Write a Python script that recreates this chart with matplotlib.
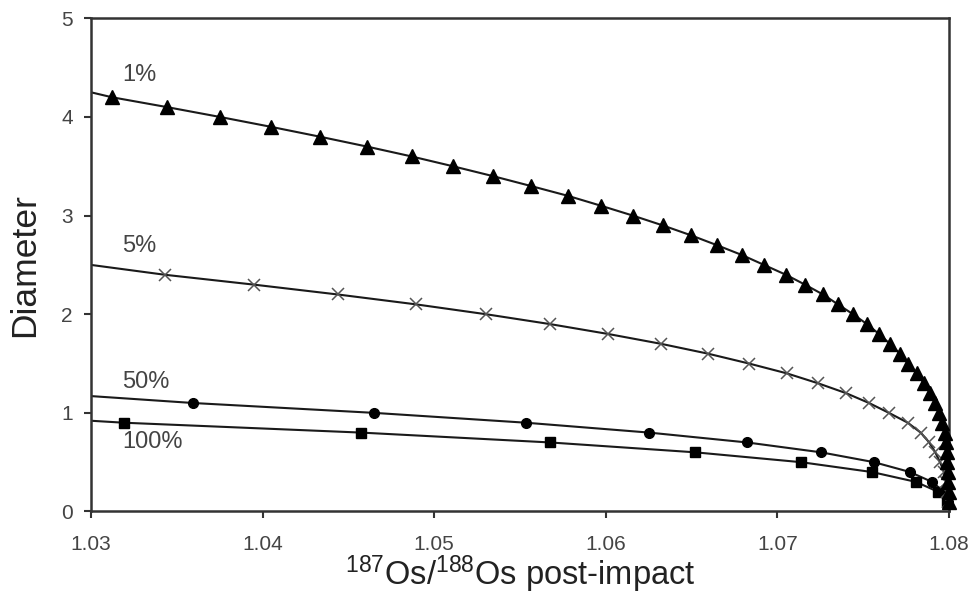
import matplotlib
matplotlib.use("Agg")
import matplotlib.pyplot as plt

plt.rcParams['font.family'] = ['Liberation Sans', 'DejaVu Sans']
plt.rcParams['mathtext.fontset'] = 'custom'
plt.rcParams['mathtext.rm'] = 'Liberation Sans'
plt.rcParams['mathtext.default'] = 'regular'

# ---- data ----
# 1% curve (triangles)
tri_x = [1.03122, 1.03443, 1.03752, 1.04049, 1.04334, 1.04608, 1.04868, 1.05110,
         1.05343, 1.05564, 1.05780, 1.05972, 1.06158, 1.06333, 1.06497, 1.06648,
         1.06794, 1.06922, 1.07050, 1.07161, 1.07266, 1.07353, 1.07441, 1.07522,
         1.07592, 1.07656, 1.07714, 1.07761, 1.07814, 1.07854, 1.07889, 1.07918,
         1.07942, 1.07959, 1.07974, 1.07983, 1.07988, 1.07991, 1.07994, 1.07996,
         1.07998, 1.08000]
tri_y = [4.2, 4.1, 4.0, 3.9, 3.8, 3.7, 3.6, 3.5, 3.4, 3.3, 3.2, 3.1, 3.0, 2.9,
         2.8, 2.7, 2.6, 2.5, 2.4, 2.3, 2.2, 2.1, 2.0, 1.9, 1.8, 1.7, 1.6, 1.5,
         1.4, 1.3, 1.2, 1.1, 1.0, 0.9, 0.8, 0.7, 0.6, 0.5, 0.4, 0.3, 0.2, 0.1]
# 5% curve (crosses)
crs_x = [1.03431, 1.03950, 1.04439, 1.04894, 1.05302, 1.05675, 1.06013, 1.06322,
         1.06596, 1.06835, 1.07056, 1.07237, 1.07400, 1.07534, 1.07650, 1.07760,
         1.07835, 1.07885, 1.07920, 1.07948, 1.07971, 1.07983, 1.07991, 1.07997]
crs_y = [2.4, 2.3, 2.2, 2.1, 2.0, 1.9, 1.8, 1.7, 1.6, 1.5, 1.4, 1.3, 1.2, 1.1,
         1.0, 0.9, 0.8, 0.7, 0.6, 0.5, 0.4, 0.3, 0.2, 0.1]
# 50% curve (circles)
cir_x = [1.03594, 1.04649, 1.05535, 1.06252, 1.06823, 1.07254, 1.07563, 1.07773,
         1.07901, 1.07971, 1.07995]
cir_y = [1.1, 1.0, 0.9, 0.8, 0.7, 0.6, 0.5, 0.4, 0.3, 0.2, 0.1]
# 100% curve (squares)
sqr_x = [1.03192, 1.04573, 1.05675, 1.06520, 1.07138, 1.07551, 1.07808, 1.07936,
         1.07988]
sqr_y = [0.9, 0.8, 0.7, 0.6, 0.5, 0.4, 0.3, 0.2, 0.1]

# curve start values at x = 1.03 and common end point
line_x0 = 1.03
start_y = {'1%': 4.25, '5%': 2.50, '50%': 1.17, '100%': 0.92}
end_x, end_y = 1.08, 0.05

labels = ['1%', '5%', '50%', '100%']
label_pos = {'1%': (1.0318, 4.43), '5%': (1.0318, 2.69),
             '50%': (1.0318, 1.31), '100%': (1.0318, 0.70)}

x_ticks = [1.03, 1.04, 1.05, 1.06, 1.07, 1.08]
x_ticklabels = ['1.03', '1.04', '1.05', '1.06', '1.07', '1.08']
y_ticks = [0, 1, 2, 3, 4, 5]

# ---- figure ----
fig = plt.figure(figsize=(9.73, 5.99), dpi=100)
ax = fig.add_axes([0.0935, 0.1461, 0.8818, 0.8233])

series = [
    ('1%', tri_x, tri_y, dict(marker='^', ms=10, mfc='black', mec='black', ls='none')),
    ('5%', crs_x, crs_y, dict(marker='x', ms=9, mec='#555555', mew=1.1, ls='none')),
    ('50%', cir_x, cir_y, dict(marker='o', ms=7, mfc='black', mec='black', ls='none')),
    ('100%', sqr_x, sqr_y, dict(marker='s', ms=6.5, mfc='black', mec='black', ls='none')),
]

for name, xs, ys, style in series:
    lx = [line_x0] + list(xs) + [end_x]
    ly = [start_y[name]] + list(ys) + [end_y]
    ax.plot(lx, ly, color='#1a1a1a', lw=1.5, zorder=2)

for name, xs, ys, style in reversed(series):
    ax.plot(xs, ys, zorder=3, clip_on=False, **style)

for name in labels:
    px, py = label_pos[name]
    ax.text(px, py, name, fontsize=17, color='#444444', ha='left', va='center')

ax.set_xlim(1.03, 1.08)
ax.set_ylim(0, 5)
ax.set_xticks(x_ticks)
ax.set_xticklabels(x_ticklabels)
ax.set_yticks(y_ticks)

for sp in ax.spines.values():
    sp.set_linewidth(1.8)
    sp.set_color('#333333')

ax.tick_params(axis='both', direction='out', length=5, width=1.5, color='#333333',
               labelsize=15, labelcolor='#444444')
ax.tick_params(axis='x', pad=12)
ax.tick_params(axis='y', pad=8)

ax.set_xlabel(r'$^{187}$Os/$^{188}$Os post-impact', fontsize=23.5, color='#222222')
ax.xaxis.set_label_coords(0.5, -0.085)
ax.set_ylabel('Diameter', fontsize=25.5, color='#222222')
ax.yaxis.set_label_coords(-0.058, 0.5)

fig.savefig('out.png', dpi=100)
